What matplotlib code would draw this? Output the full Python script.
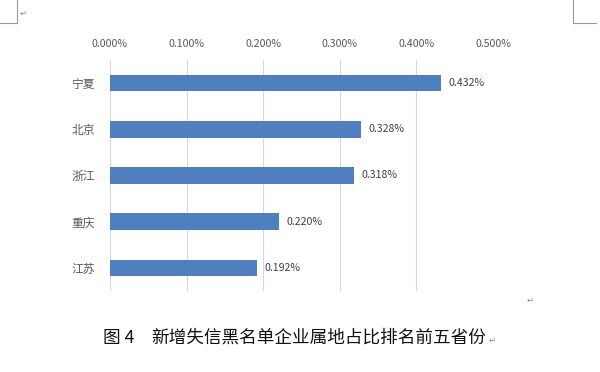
import matplotlib.pyplot as plt
from matplotlib.ticker import FuncFormatter
from matplotlib.lines import Line2D

provinces = ["宁夏", "北京", "浙江", "重庆", "江苏"]
shares = [0.432, 0.328, 0.318, 0.220, 0.192]
x_ticks = [0.0, 0.1, 0.2, 0.3, 0.4, 0.5]
fig_no = "图 4"
caption = "新增失信黑名单企业属地占比排名前五省份"

plt.rcParams["font.family"] = ["Noto Sans CJK SC", "DejaVu Sans"]

fig = plt.figure(figsize=(6, 3.72), dpi=100)
ax = fig.add_axes([110 / 600, 1 - 291 / 372, 383 / 600, 231 / 372])

bar_color = "#4F7FBE"
ax.barh(range(len(provinces)), shares, height=0.36, color=bar_color, zorder=3)
ax.set_ylim(len(provinces) - 0.5, -0.5)
ax.set_xlim(0, 0.5)
ax.set_xticks(x_ticks)
ax.xaxis.set_major_formatter(FuncFormatter(lambda v, p: f"{v:.3f}%"))
ax.xaxis.tick_top()
ax.tick_params(axis="x", length=0, pad=8, labelsize=7.6, labelcolor="#595959")
ax.set_yticks(range(len(provinces)))
ax.set_yticklabels(provinces)
ax.tick_params(axis="y", length=0, pad=11, labelsize=8.5, labelcolor="#595959")
ax.grid(axis="x", color="#d9d9d9", linewidth=0.8, zorder=0)
for s in ax.spines.values():
    s.set_visible(False)

for i, v in enumerate(shares):
    ax.text(v + 0.01, i, f"{v:.3f}%", va="center", ha="left",
            fontsize=7.6, color="#404040")

# caption and page marks
fig.text(103 / 600, 1 - 338 / 372, fig_no, fontsize=12.7, color="#111111",
         va="center", ha="left")
fig.text(151 / 600, 1 - 338 / 372, caption, fontsize=12.7, color="#111111",
         va="center", ha="left")
fig.text(489 / 600, 1 - 340 / 372, "↵", fontsize=6, color="#888888",
         va="center", family="DejaVu Sans")
fig.text(527 / 600, 1 - 300 / 372, "↵", fontsize=6, color="#888888",
         va="center", family="DejaVu Sans")
fig.text(20 / 600, 1 - 13 / 372, "↵", fontsize=6, color="#888888",
         va="center", family="DejaVu Sans")

mark = dict(color="#999999", linewidth=0.8, transform=fig.transFigure)
fig.add_artist(Line2D([17 / 600, 17 / 600], [1, 1 - 23 / 372], **mark))
fig.add_artist(Line2D([0, 17 / 600], [1 - 23 / 372, 1 - 23 / 372], **mark))
fig.add_artist(Line2D([573 / 600, 573 / 600], [1, 1 - 23 / 372], **mark))
fig.add_artist(Line2D([573 / 600, 596 / 600], [1 - 23 / 372, 1 - 23 / 372], **mark))

fig.savefig("out.png", dpi=100)
